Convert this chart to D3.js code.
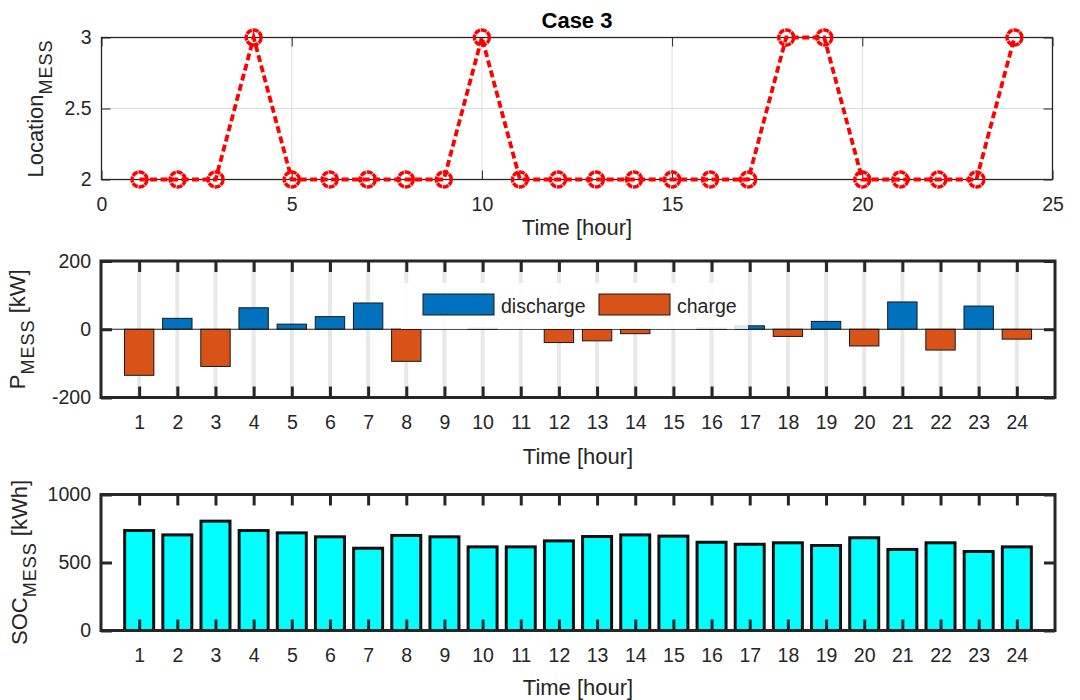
<!DOCTYPE html>
<html>
<head>
<meta charset="utf-8">
<script src="https://cdn.jsdelivr.net/npm/d3@7"></script>
<style>
  body { margin: 0; background: #fff; }
  svg { display: block; font-family: "Liberation Sans", Arial, sans-serif; }
</style>
</head>
<body>
<div id="wrapper"></div>
<script>
// data
const hours = [1, 2, 3, 4, 5, 6, 7, 8, 9, 10, 11, 12, 13, 14, 15, 16, 17, 18, 19, 20, 21, 22, 23, 24];
const messLocation = [2, 2, 2, 3, 2, 2, 2, 2, 2, 3, 2, 2, 2, 2, 2, 2, 2, 3, 3, 2, 2, 2, 2, 3];
const discharge = [0, 32, 0, 63, 15, 37, 77, 0, 0, 3, 0, 0, 0, 0, 0, 3, 10, 0, 23, 0, 80, 0, 68, 0];
const charge = [-135, 0, -109, 0, 0, 0, 0, -94, 0, 0, 0, -39, -34, -13, 0, 0, 0, -21, 0, -49, 0, -61, 0, -29];
const soc = [735, 703, 804, 735, 718, 689, 605, 699, 689, 615, 615, 659, 691, 703, 694, 649, 634, 645, 625, 682, 596, 645, 581, 615];

const locXTicks = [0, 5, 10, 15, 20, 25];
const locYTicks = [2, 2.5, 3];
const powerYTicks = [-200, 0, 200];
const socYTicks = [0, 500, 1000];

const drawChart = () => {
  const textColor = "#262626";
  const tickFont = 19.5;
  const labelFont = 22;
  const plain = (d) => String(d); // keeps "-200" and "1000" as in the figure

  const svg = d3
    .select("#wrapper")
    .append("svg")
    .attr("width", 1080)
    .attr("height", 700);

  // ---------- helpers ----------
  const styleAxis = (g, width, fontSize) => {
    g.attr("color", textColor).attr("font-size", fontSize).attr("font-family", null);
    g.select(".domain").remove();
    g.selectAll(".tick line").attr("stroke-width", width);
  };

  const frame = (dims, width) =>
    svg
      .append("rect")
      .attr("x", dims.left)
      .attr("y", dims.top)
      .attr("width", dims.right - dims.left)
      .attr("height", dims.bottom - dims.top)
      .attr("fill", "none")
      .attr("stroke", textColor)
      .attr("stroke-width", width);

  const addAxes = (dims, xScale, yScale, xTicks, yTicks, len, width) => {
    svg.append("g")
      .attr("transform", `translate(0,${dims.bottom})`)
      .call(d3.axisBottom(xScale).tickValues(xTicks).tickFormat(plain).tickSizeInner(-len).tickSizeOuter(0).tickPadding(18))
      .call((g) => styleAxis(g, width, tickFont));
    svg.append("g")
      .attr("transform", `translate(0,${dims.top})`)
      .call(d3.axisTop(xScale).tickValues(xTicks).tickSizeInner(-len).tickSizeOuter(0).tickFormat(""))
      .call((g) => styleAxis(g, width, tickFont));
    svg.append("g")
      .attr("transform", `translate(${dims.left},0)`)
      .call(d3.axisLeft(yScale).tickValues(yTicks).tickFormat(plain).tickSizeInner(-len).tickSizeOuter(0).tickPadding(10))
      .call((g) => styleAxis(g, width, tickFont));
    svg.append("g")
      .attr("transform", `translate(${dims.right},0)`)
      .call(d3.axisRight(yScale).tickValues(yTicks).tickSizeInner(-len).tickSizeOuter(0).tickFormat(""))
      .call((g) => styleAxis(g, width, tickFont));
  };

  const xLabel = (dims, y) =>
    svg.append("text")
      .attr("x", (dims.left + dims.right) / 2)
      .attr("y", y)
      .attr("text-anchor", "middle")
      .attr("font-size", labelFont)
      .attr("fill", textColor)
      .text("Time [hour]");

  const yLabel = (dims, x, main, rest) => {
    const t = svg.append("text")
      .attr("transform", `translate(${x},${(dims.top + dims.bottom) / 2}) rotate(-90)`)
      .attr("text-anchor", "middle")
      .attr("font-size", labelFont)
      .attr("fill", textColor);
    t.append("tspan").text(main);
    t.append("tspan").attr("font-size", 18).attr("dy", 9).attr("letter-spacing", 1).text("MESS");
    if (rest) t.append("tspan").attr("dy", -9).text(rest);
  };

  // ---------- panel 1 : location ----------
  const d1 = { left: 101.5, right: 1052.5, top: 37.5, bottom: 179.5 };
  const x1 = d3.scaleLinear().domain([0, 25]).range([d1.left, d1.right]);
  const y1 = d3.scaleLinear().domain([2, 3]).range([d1.bottom, d1.top]);

  const grid1 = svg.append("g").attr("stroke", "#dcdcdc").attr("stroke-width", 1);
  grid1.selectAll(".gx").data(locXTicks.slice(1, -1)).join("line")
    .attr("x1", (d) => x1(d)).attr("x2", (d) => x1(d))
    .attr("y1", d1.top).attr("y2", d1.bottom);
  grid1.selectAll(".gy").data([2.5]).join("line")
    .attr("x1", d1.left).attr("x2", d1.right)
    .attr("y1", (d) => y1(d)).attr("y2", (d) => y1(d));

  addAxes(d1, x1, y1, locXTicks, locYTicks, 9, 1);
  frame(d1, 1.3);

  const locData = hours.map((h, i) => ({ h, v: messLocation[i] }));
  const lineGenerator = d3.line().x((d) => x1(d.h)).y((d) => y1(d.v));

  svg.append("path")
    .attr("d", lineGenerator(locData))
    .attr("fill", "none")
    .attr("stroke", "#ff0000")
    .attr("stroke-width", 3.8)
    .attr("stroke-dasharray", "7 3.5");

  svg.append("g").selectAll("circle").data(locData).join("circle")
    .attr("cx", (d) => x1(d.h))
    .attr("cy", (d) => y1(d.v))
    .attr("r", 7.5)
    .attr("fill", "none")
    .attr("stroke", "#ff0000")
    .attr("stroke-width", 3.4)
    .attr("stroke-dasharray", "6 0.8");

  svg.append("text")
    .attr("x", (d1.left + d1.right) / 2)
    .attr("y", 27.5)
    .attr("text-anchor", "middle")
    .attr("font-size", 22)
    .attr("font-weight", "bold")
    .attr("fill", "#000")
    .text("Case 3");

  xLabel(d1, 235);
  yLabel(d1, 43, "Location", null);

  // ---------- panel 2 : power ----------
  const d2 = { left: 101, right: 1055, top: 261, bottom: 397.5 };
  const x2 = d3.scaleLinear().domain([0, 25]).range([d2.left, d2.right]);
  const y2 = d3.scaleLinear().domain([-200, 200]).range([d2.bottom, d2.top]);
  const bw2 = (x2(1) - x2(0)) * 0.77;

  svg.append("g").selectAll("line").data(hours).join("line")
    .attr("x1", (d) => x2(d)).attr("x2", (d) => x2(d))
    .attr("y1", d2.top).attr("y2", d2.bottom)
    .attr("stroke", "#e8e8e8")
    .attr("stroke-width", 4);

  const powerSeries = [
    { name: "discharge", color: "#0072BD", values: discharge },
    { name: "charge", color: "#D95319", values: charge },
  ];

  powerSeries.forEach((s) => {
    svg.append("g").selectAll("rect")
      .data(hours.map((h, i) => ({ h, v: s.values[i] })).filter((d) => d.v !== 0))
      .join("rect")
      .attr("x", (d) => x2(d.h) - bw2 / 2)
      .attr("width", bw2)
      .attr("y", (d) => y2(Math.max(0, d.v)))
      .attr("height", (d) => Math.abs(y2(d.v) - y2(0)))
      .attr("fill", s.color)
      .attr("stroke", "#1a1a1a")
      .attr("stroke-width", 1);
  });

  svg.append("line")
    .attr("x1", d2.left).attr("x2", d2.right)
    .attr("y1", y2(0)).attr("y2", y2(0))
    .attr("stroke", "#1a1a1a").attr("stroke-width", 1);

  // legend (semi-opaque white box, no border)
  const legend = svg.append("g");
  legend.append("rect")
    .attr("x", 401).attr("y", 283)
    .attr("width", 347).attr("height", 46)
    .attr("fill", "#fff").attr("fill-opacity", 0.85);
  const legendItems = [
    { x: 423, name: powerSeries[0].name, color: powerSeries[0].color },
    { x: 599, name: powerSeries[1].name, color: powerSeries[1].color },
  ];
  legendItems.forEach((it) => {
    legend.append("rect")
      .attr("x", it.x).attr("y", 294)
      .attr("width", 71).attr("height", 21)
      .attr("fill", it.color)
      .attr("stroke", "#1a1a1a").attr("stroke-width", 1);
    legend.append("text")
      .attr("x", it.x + 78).attr("y", 313)
      .attr("font-size", tickFont)
      .attr("fill", textColor)
      .text(it.name);
  });

  addAxes(d2, x2, y2, hours, powerYTicks, 11, 3);
  frame(d2, 3);
  xLabel(d2, 464);
  yLabel(d2, 25, "P", " [kW]");

  // ---------- panel 3 : SOC ----------
  const d3dims = { left: 101, right: 1055, top: 494.5, bottom: 630.5 };
  const x3 = d3.scaleLinear().domain([0, 25]).range([d3dims.left, d3dims.right]);
  const y3 = d3.scaleLinear().domain([0, 1000]).range([d3dims.bottom, d3dims.top]);
  const bw3 = (x3(1) - x3(0)) * 0.76;

  svg.append("g").selectAll("rect")
    .data(hours.map((h, i) => ({ h, v: soc[i] })))
    .join("rect")
    .attr("x", (d) => x3(d.h) - bw3 / 2)
    .attr("width", bw3)
    .attr("y", (d) => y3(d.v))
    .attr("height", (d) => y3(0) - y3(d.v))
    .attr("fill", "#00FFFF")
    .attr("stroke", "#111")
    .attr("stroke-width", 3);

  addAxes(d3dims, x3, y3, hours, socYTicks, 11, 3);
  frame(d3dims, 3);
  xLabel(d3dims, 695);
  yLabel(d3dims, 27, "SOC", " [kWh]");
};

drawChart();
</script>
</body>
</html>
